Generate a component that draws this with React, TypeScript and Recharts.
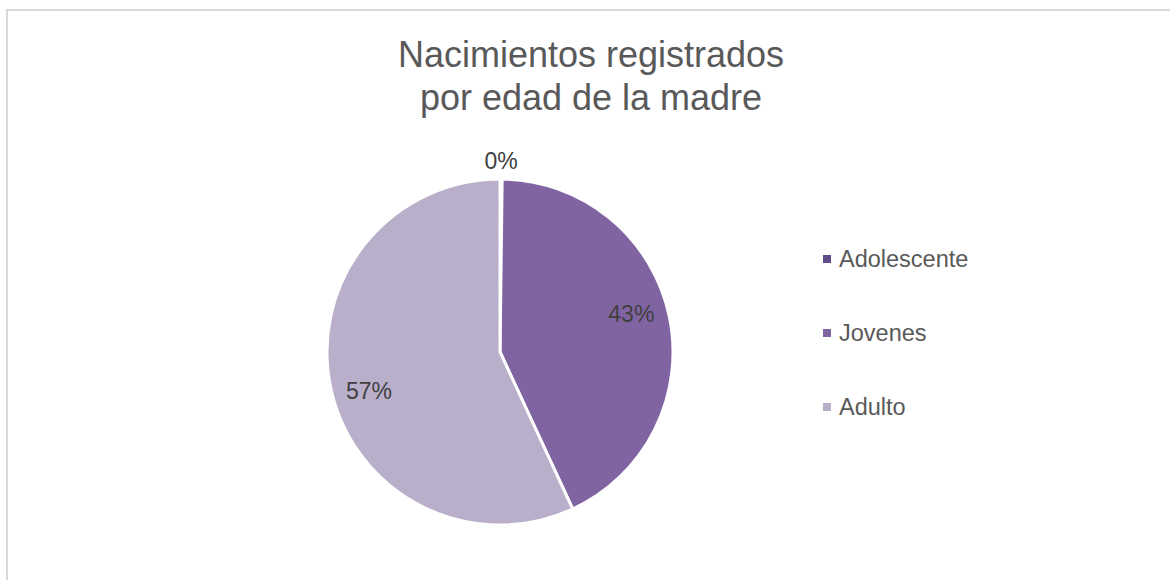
import React from "react";
import { PieChart, Pie, Cell, Legend } from "recharts";

const categories = ["Adolescente", "Jovenes", "Adulto"];
const values = [0.2, 42.9, 56.9];
const colors = ["#5F4B8B", "#8064A2", "#B9AFCB"];
const titleLines = ["Nacimientos registrados", "por edad de la madre"];

const data = categories.map((name, i) => ({ name, value: values[i] }));

const RAD = Math.PI / 180;
const FONT = "'Liberation Sans', Arial, sans-serif";

const renderLabel = (props: any) => {
  const { cx, cy, midAngle, outerRadius, percent } = props;
  const small = percent < 0.02;
  const r = small ? outerRadius + 18 : outerRadius * 0.79;
  const a = small ? midAngle : midAngle + 4;
  const x = cx + r * Math.cos(-a * RAD);
  const y = cy + r * Math.sin(-a * RAD);
  return (
    <text
      x={x}
      y={y}
      fill="#404040"
      fontSize={23}
      fontFamily={FONT}
      textAnchor="middle"
      dominantBaseline="central"
    >
      {`${Math.round(percent * 100)}%`}
    </text>
  );
};

const renderLegend = () => (
  <div style={{ fontFamily: FONT }}>
    {categories.map((c, i) => (
      <div
        key={c}
        style={{
          display: "flex",
          alignItems: "center",
          height: 26,
          marginBottom: i < categories.length - 1 ? 48 : 0,
          color: "#595959",
          fontSize: 23.5,
        }}
      >
        <span
          style={{
            display: "inline-block",
            width: 8,
            height: 8,
            background: colors[i],
            marginRight: 8,
          }}
        />
        {c}
      </div>
    ))}
  </div>
);

export default function App() {
  return (
    <div
      style={{
        position: "fixed",
        left: 0,
        top: 0,
        width: 1170,
        height: 580,
        overflow: "hidden",
        background: "#fff",
      }}
    >
      <div
        style={{
          position: "absolute",
          left: 6,
          top: 9,
          width: 1200,
          height: 620,
          borderTop: "2px solid #D9D9D9",
          borderLeft: "2px solid #D9D9D9",
          boxSizing: "border-box",
        }}
      />
      <div
        style={{
          position: "absolute",
          left: 6,
          top: 33,
          width: 1170,
          textAlign: "center",
          fontFamily: FONT,
          fontSize: 36,
          lineHeight: "43px",
          color: "#595959",
        }}
      >
        {titleLines.map((t) => (
          <div key={t}>{t}</div>
        ))}
      </div>
      <div style={{ position: "absolute", left: 0, top: 0 }}>
        <PieChart width={1170} height={580}>
          <Pie
            data={data}
            dataKey="value"
            nameKey="name"
            cx={495}
            cy={347}
            outerRadius={173}
            startAngle={90}
            endAngle={-270}
            stroke="#fff"
            strokeWidth={3}
            label={renderLabel}
            labelLine={false}
            isAnimationActive={false}
          >
            {data.map((d, i) => (
              <Cell key={d.name} fill={colors[i]} />
            ))}
          </Pie>
          <Legend
            content={renderLegend}
            layout="vertical"
            wrapperStyle={{ position: "absolute", left: 823, top: 246, width: 250 }}
          />
        </PieChart>
      </div>
    </div>
  );
}
